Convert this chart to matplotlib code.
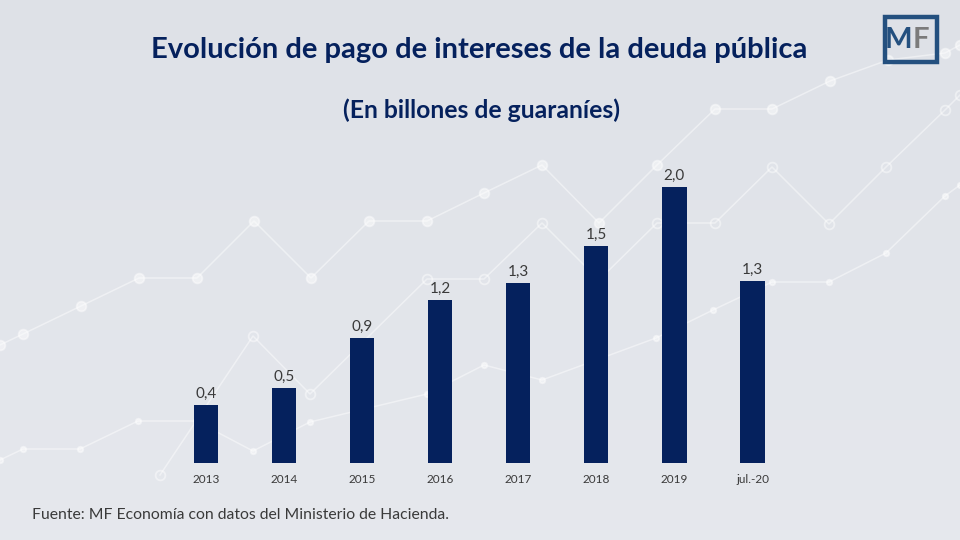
import numpy as np
import matplotlib
matplotlib.use("Agg")
import matplotlib.pyplot as plt
from matplotlib.patches import Rectangle

# ---- data ----
categories = ["2013", "2014", "2015", "2016", "2017", "2018", "2019", "jul.-20"]
values = [0.41, 0.53, 0.89, 1.16, 1.28, 1.54, 1.96, 1.29]

title = "Evolución de pago de intereses de la deuda pública"
subtitle = "(En billones de guaraníes)"
source = "Fuente: MF Economía con datos del Ministerio de Hacienda."

# decorative background polylines (pixel coordinates of the slide art)
decor_a_x = [0, 23, 81, 139, 197, 254, 311, 369, 427, 484, 542, 599, 657, 715, 772, 830, 888, 945, 960]
decor_a_y = [345, 334, 306, 278, 278, 221, 278, 221, 221, 193, 165, 223, 165, 109, 109, 81, 60, 53, 45]
decor_b_x = [160, 253, 310, 427, 484, 542, 599, 657, 715, 772, 829, 886, 945, 960]
decor_b_y = [475, 336, 394, 279, 279, 223, 280, 223, 223, 167, 224, 167, 110, 95]
decor_c_x = [0, 23, 80, 138, 196, 253, 310, 427, 484, 542, 656, 713, 772, 829, 886, 945, 960]
decor_c_y = [460, 449, 449, 421, 421, 451, 422, 394, 365, 380, 338, 310, 282, 282, 253, 196, 185]

NAVY = "#05215d"
TXT = "#3a3a3a"

plt.rcParams['font.family'] = ['Lato', 'DejaVu Sans']

fig = plt.figure(figsize=(9.6, 5.4), dpi=100)

# background
bg = fig.add_axes([0, 0, 1, 1])
gx, gy = np.meshgrid(np.linspace(0, 1, 96), np.linspace(0, 1, 54))
top = np.array([0.872, 0.884, 0.908])
bot = np.array([0.900, 0.910, 0.930])
img = top[None, None, :] * (1 - gy[..., None]) + bot[None, None, :] * gy[..., None]
bg.imshow(img, extent=[0, 960, 540, 0], aspect='auto', zorder=0)
bg.set_xlim(0, 960)
bg.set_ylim(540, 0)
bg.axis('off')
for xs, ys, hollow, ms in [(decor_a_x, decor_a_y, False, 7),
                           (decor_b_x, decor_b_y, True, 7),
                           (decor_c_x, decor_c_y, False, 4)]:
    bg.plot(xs, ys, color='white', lw=1.1, alpha=0.45, zorder=1,
            marker='o', ms=ms,
            mfc=('none' if hollow else 'white'), mec='white', mew=1.3)

# main chart
ax = fig.add_axes([167 / 960, 77 / 540, (791.5 - 167) / 960, 313 / 540])
ax.patch.set_alpha(0)
x = np.arange(len(categories))
ax.bar(x, values, width=0.31, color=NAVY, zorder=3)
ax.set_xlim(-0.5, len(categories) - 0.5)
ax.set_ylim(0, 313 / 140.8)
for s in ax.spines.values():
    s.set_visible(False)
ax.set_yticks([])
ax.set_xticks(x)
ax.set_xticklabels(categories, fontsize=8.5, color=TXT)
ax.tick_params(axis='x', length=0, pad=8)
for xi, v in zip(x, values):
    ax.annotate(f"{v:.1f}".replace('.', ','), (xi, v), xytext=(0, 3),
                textcoords='offset points', ha='center', va='bottom',
                fontsize=11, color=TXT)

# titles
fig.text(479 / 960, 1 - 50 / 540, title, ha='center', va='center',
         fontsize=21, fontweight='bold', color=NAVY)
fig.text(481 / 960, 1 - 110 / 540, subtitle, ha='center', va='center',
         fontsize=17.8, fontweight='bold', color=NAVY)
fig.text(32 / 960, 1 - 515 / 540, source, ha='left', va='center',
         fontsize=11.3, color=TXT)

# logo
logo_col = "#24507f"
bg.add_patch(Rectangle((885, 17), 52, 45, fill=False, ec=logo_col, lw=3.2, zorder=5))
bg.text(898, 40, "M", ha='center', va='center', fontsize=21, fontweight='bold',
        color=logo_col, zorder=6)
bg.text(921, 40, "F", ha='center', va='center', fontsize=21, fontweight='bold',
        color="#7b7b7b", zorder=6)

fig.savefig("out.png", dpi=100)
